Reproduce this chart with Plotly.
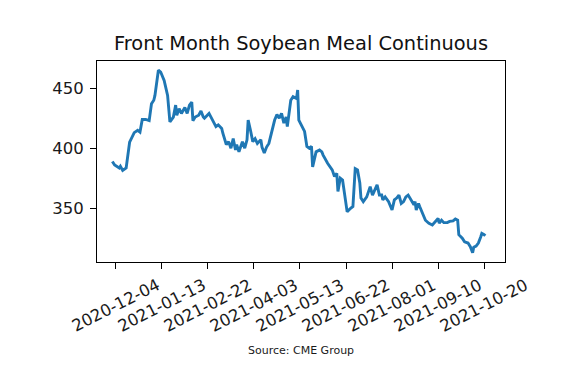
import plotly.graph_objects as go

title_text = "Front Month Soybean Meal Continuous"
source_text = "Source: CME Group"

dates = ["2020-12-01","2020-12-03","2020-12-07","2020-12-08","2020-12-10","2020-12-13","2020-12-16","2020-12-20","2020-12-23","2020-12-25","2020-12-27","2020-12-30",
         "2021-01-02","2021-01-04","2021-01-06","2021-01-07","2021-01-10","2021-01-12","2021-01-15","2021-01-18","2021-01-20","2021-01-23","2021-01-25","2021-01-26","2021-01-28","2021-01-30",
         "2021-02-02","2021-02-04","2021-02-06","2021-02-08","2021-02-09","2021-02-11","2021-02-14","2021-02-16","2021-02-18","2021-02-19","2021-02-23","2021-02-25","2021-02-27",
         "2021-03-01","2021-03-03","2021-03-06","2021-03-07","2021-03-10","2021-03-12","2021-03-14","2021-03-16","2021-03-18","2021-03-19","2021-03-21","2021-03-24","2021-03-26","2021-03-28","2021-03-29","2021-03-31",
         "2021-04-02","2021-04-04","2021-04-06","2021-04-09","2021-04-10","2021-04-12","2021-04-14","2021-04-16","2021-04-19","2021-04-21","2021-04-23","2021-04-25","2021-04-27","2021-04-29",
         "2021-05-01","2021-05-02","2021-05-05","2021-05-07","2021-05-10","2021-05-11","2021-05-12","2021-05-16","2021-05-17","2021-05-19","2021-05-21","2021-05-23","2021-05-24","2021-05-27","2021-05-30",
         "2021-06-01","2021-06-02","2021-06-06","2021-06-08","2021-06-10","2021-06-12","2021-06-14","2021-06-15","2021-06-17","2021-06-19","2021-06-22","2021-06-23","2021-06-26","2021-06-28","2021-06-30",
         "2021-07-02","2021-07-04","2021-07-05","2021-07-07","2021-07-10","2021-07-13","2021-07-15","2021-07-19","2021-07-21","2021-07-23","2021-07-24","2021-07-26","2021-07-29",
         "2021-08-01","2021-08-03","2021-08-05","2021-08-07","2021-08-09","2021-08-11","2021-08-13","2021-08-15","2021-08-20","2021-08-21","2021-08-22","2021-08-24","2021-08-25","2021-08-28","2021-08-30",
         "2021-09-02","2021-09-05","2021-09-10","2021-09-11","2021-09-13","2021-09-15","2021-09-18","2021-09-20","2021-09-23","2021-09-25","2021-09-27","2021-09-28",
         "2021-10-01","2021-10-03","2021-10-06","2021-10-08","2021-10-10","2021-10-11","2021-10-13","2021-10-15","2021-10-17","2021-10-18","2021-10-20","2021-10-21"]

prices = [389,386,383.5,385,381.5,383.5,405,413,415,413.5,424,424,
          423,437,440,444,465,463.5,456.5,444,422,426,436,427.5,433,429,
          434,429,436,438.5,423,426,427.5,431,426,425,429,425,422,
          418,419.5,416.5,412.5,403,405.5,400,408,398.5,403,397,405.5,400,407,423.5,415,
          405.5,408,404,407,401,396,401,404,415,423.5,428,425,429,421,
          426,418,440,443,441.5,448.5,423.5,416.5,414,401.5,400,401.5,384.5,397,398.5,
          397,394.5,387.5,384.5,382,376.5,379,364,375,373.5,353,347,350,351.5,383,
          382,371,358.5,355.5,359.5,368,361,369.5,361,361,357,359.5,355.5,
          348.5,357,358.5,361,354,355.5,359.5,361,353,355.5,348.5,354,351.5,344.5,340,
          337.5,336,341.5,337.5,340,338,338,339,339.5,341,340,328,
          325,322,321,318,313,317.5,318.5,321,326,329,328,327]

x_ticks = ["2020-12-04","2021-01-13","2021-02-22","2021-04-03","2021-05-13",
           "2021-06-22","2021-08-01","2021-09-10","2021-10-20"]
y_ticks = [350, 400, 450]

FONT = "DejaVu Sans"

fig = go.Figure()
fig.add_trace(go.Scatter(x=dates, y=prices, mode="lines",
                         line=dict(color="#1f77b4", width=2.9), showlegend=False))

for t in x_ticks:
    fig.add_annotation(x=t, xref="x", y=-0.217, yref="paper", text=t, showarrow=False,
                       textangle=-27, xanchor="center", yanchor="middle",
                       font=dict(family=FONT, size=16.5, color="#1a1a1a"))

fig.add_annotation(x=0.5, xref="paper", y=-0.438, yref="paper", text=source_text,
                   showarrow=False, xanchor="center", yanchor="middle",
                   font=dict(family=FONT, size=11, color="#1a1a1a"))

fig.update_layout(
    width=567, height=368,
    margin=dict(l=97, r=62, t=61, b=106),
    paper_bgcolor="white", plot_bgcolor="white",
    title=dict(text=title_text, x=0.5, xref="paper", y=1 - 43/368, yref="container",
               xanchor="center", yanchor="middle",
               font=dict(family=FONT, size=19.4, color="#111")),
    font=dict(family=FONT, color="#1a1a1a"),
)
fig.update_xaxes(type="date", range=["2020-11-17 16:00", "2021-11-07 03:00"],
                 tickvals=x_ticks, showticklabels=False, ticks="outside", ticklen=6,
                 tickcolor="black", showline=True, linecolor="black", linewidth=1,
                 mirror=True, showgrid=False, zeroline=False)
fig.update_yaxes(range=[305.2, 472.7], tickvals=y_ticks, ticks="outside", ticklen=6,
                 tickcolor="black", showline=True, linecolor="black", linewidth=1,
                 mirror=True, showgrid=False, zeroline=False, ticklabelstandoff=3,
                 tickfont=dict(family=FONT, size=16.5, color="#1a1a1a"))

fig.write_html("out.html", config={"displayModeBar": False},
               post_script="document.body.style.margin='0';document.body.style.overflow='hidden';")
